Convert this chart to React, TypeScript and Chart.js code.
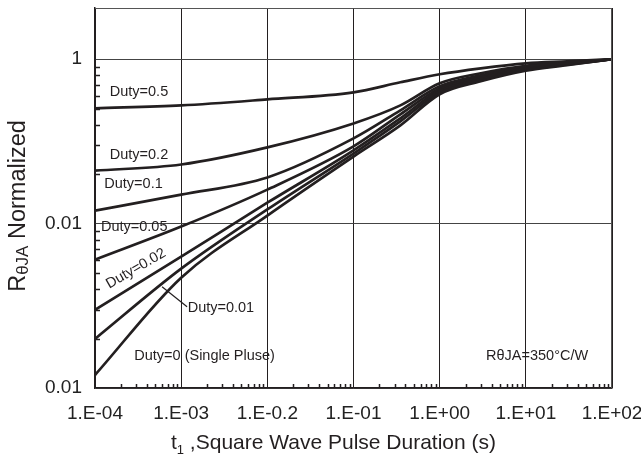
import React, { useEffect, useRef } from "react";
import { Chart, registerables } from "chart.js";

Chart.register(...registerables);

// Pulse duration sample points (s)
const T = [1e-4, 1e-3, 1e-2, 0.1, 0.35, 1, 3, 10, 30, 100];

// Normalized thermal resistance per duty cycle
const DUTY = ["0.5", "0.2", "0.1", "0.05", "0.02", "0.01", "0"];
const D05 = [0.503, 0.524, 0.57, 0.629, 0.724, 0.81, 0.881, 0.945, 0.972, 1.0];
const D02 = [0.21, 0.229, 0.291, 0.407, 0.524, 0.714, 0.822, 0.913, 0.952, 1.0];
const D01 = [0.12, 0.15, 0.191, 0.33, 0.489, 0.684, 0.799, 0.9, 0.945, 1.0];
const D005 = [0.0603, 0.0959, 0.161, 0.295, 0.462, 0.665, 0.782, 0.888, 0.939, 1.0];
const D002 = [0.0299, 0.0629, 0.134, 0.279, 0.437, 0.647, 0.766, 0.875, 0.932, 1.0];
const D001 = [0.0199, 0.0532, 0.122, 0.267, 0.419, 0.629, 0.75, 0.863, 0.926, 1.0];
const D0 = [0.012, 0.0469, 0.112, 0.256, 0.396, 0.612, 0.734, 0.851, 0.919, 1.0];
const SERIES = [D05, D02, D01, D005, D002, D001, D0];

// Axis ticks and labels (as printed in the original, typos included)
const X_TICKS = [1e-4, 1e-3, 1e-2, 1e-1, 1, 10, 100];
const X_LABELS = ["1.E-04", "1.E-03", "1.E-0.2", "1.E-01", "1.E+00", "1.E+01", "1.E+02"];
const Y_TICKS = [0.01, 0.1, 1];
const Y_LABELS = ["0.01", "0.01", "1"];

// In-plot notes (data coordinates)
const NOTE_TEXT = ["Duty=0.5", "Duty=0.2", "Duty=0.1", "Duty=0.05", "Duty=0.02", "Duty=0.01", "Duty=0 (Single Pluse)", "RθJA=350°C/W"];
const NOTE_T = [3.24e-4, 3.24e-4, 2.8e-4, 2.85e-4, 2.99e-4, 1.19e-3, 1.87e-3, 13.5];
const NOTE_V = [0.636, 0.263, 0.175, 0.0952, 0.0532, 0.0308, 0.0157, 0.0157];
const NOTE_ANGLE = [0, 0, 0, 0, -30, 0, 0, 0];
const NOTE_ALIGN = ["center", "center", "center", "center", "center", "left", "center", "center"];
const LEADER_T = [6.0e-4, 1.17e-3];
const LEADER_V = [0.0413, 0.0312];

const FONT = "'Liberation Sans', Arial, Helvetica, sans-serif";
const INK = "#231f20";

export default function App() {
  const ref = useRef<HTMLCanvasElement>(null);

  useEffect(() => {
    const canvas = ref.current;
    if (!canvas) return;

    const datasets = SERIES.map((vals, i) => ({
      label: "Duty=" + DUTY[i],
      data: T.map((t, j) => ({ x: t, y: vals[j] })),
      borderColor: INK,
      backgroundColor: INK,
      borderWidth: 2.7,
      pointRadius: 0,
      fill: false,
      cubicInterpolationMode: "monotone" as const,
    }));

    const overlay = {
      id: "overlay",
      afterDatasetsDraw(chart: any) {
        const { ctx, chartArea: a, scales } = chart;
        const xs = scales.x;
        const ys = scales.y;
        ctx.save();

        // top / right frame
        ctx.strokeStyle = "#555";
        ctx.lineWidth = 1;
        ctx.beginPath();
        ctx.moveTo(a.left, a.top + 0.5);
        ctx.lineTo(a.right, a.top + 0.5);
        ctx.moveTo(a.right - 0.5, a.top);
        ctx.lineTo(a.right - 0.5, a.bottom);
        ctx.stroke();

        // minor ticks (inside)
        ctx.strokeStyle = INK;
        ctx.lineWidth = 1.5;
        ctx.beginPath();
        for (let n = -4; n <= 1; n++) {
          for (let k = 2; k <= 9; k++) {
            const px = Math.round(xs.getPixelForValue(k * Math.pow(10, n))) + 0.5;
            ctx.moveTo(px, a.bottom);
            ctx.lineTo(px, a.bottom - 4);
          }
        }
        for (let n = -2; n <= -1; n++) {
          for (let k = 2; k <= 9; k++) {
            const py = Math.round(ys.getPixelForValue(k * Math.pow(10, n))) + 0.5;
            ctx.moveTo(a.left, py);
            ctx.lineTo(a.left + 5, py);
          }
        }
        ctx.stroke();

        // notes
        ctx.fillStyle = INK;
        ctx.font = `14.5px ${FONT}`;
        ctx.textBaseline = "middle";
        NOTE_TEXT.forEach((txt, i) => {
          const px = xs.getPixelForValue(NOTE_T[i]);
          const py = ys.getPixelForValue(NOTE_V[i]);
          ctx.save();
          ctx.translate(px, py);
          ctx.rotate((NOTE_ANGLE[i] * Math.PI) / 180);
          ctx.textAlign = NOTE_ALIGN[i] as CanvasTextAlign;
          ctx.fillText(txt, 0, 0);
          ctx.restore();
        });

        // leader line for Duty=0.01
        ctx.strokeStyle = INK;
        ctx.lineWidth = 1.2;
        ctx.beginPath();
        ctx.moveTo(xs.getPixelForValue(LEADER_T[0]), ys.getPixelForValue(LEADER_V[0]));
        ctx.lineTo(xs.getPixelForValue(LEADER_T[1]), ys.getPixelForValue(LEADER_V[1]));
        ctx.stroke();

        // x axis title with subscript
        ctx.fillStyle = INK;
        ctx.textAlign = "left";
        ctx.textBaseline = "alphabetic";
        const big = `21px ${FONT}`;
        const sub = `13px ${FONT}`;
        ctx.font = big;
        const w1 = ctx.measureText("t").width;
        ctx.font = sub;
        const w2 = ctx.measureText("1").width;
        ctx.font = big;
        const rest = " ,Square Wave Pulse Duration (s)";
        const w3 = ctx.measureText(rest).width;
        const cx = (a.left + a.right) / 2 - 20;
        let x0 = cx - (w1 + w2 + w3) / 2;
        const by = a.bottom + 61;
        ctx.fillText("t", x0, by);
        x0 += w1;
        ctx.font = sub;
        ctx.fillText("1", x0, by + 5);
        x0 += w2;
        ctx.font = big;
        ctx.fillText(rest, x0, by);

        // y axis title with subscript (rotated)
        const ybig = `23.5px ${FONT}`;
        const ysub = `17px ${FONT}`;
        ctx.font = ybig;
        const r1 = ctx.measureText("R").width;
        const r3 = ctx.measureText(" Normalized").width;
        ctx.font = ysub;
        const r2 = ctx.measureText("θJA").width;
        const cy = (a.top + a.bottom) / 2 + 8;
        ctx.translate(25, cy);
        ctx.rotate(-Math.PI / 2);
        let s0 = -(r1 + r2 + r3) / 2;
        ctx.font = ybig;
        ctx.fillText("R", s0, 0);
        s0 += r1;
        ctx.font = ysub;
        ctx.fillText("θJA", s0, 3);
        s0 += r2;
        ctx.font = ybig;
        ctx.fillText(" Normalized", s0, 0);

        ctx.restore();
      },
    };

    const chart = new Chart(canvas, {
      type: "line",
      data: { datasets },
      options: {
        animation: false,
        responsive: false,
        devicePixelRatio: 1,
        layout: { padding: { top: 8, right: 29, left: 0, bottom: 0 } },
        plugins: { legend: { display: false }, tooltip: { enabled: false } },
        scales: {
          x: {
            type: "logarithmic",
            position: "bottom",
            min: 1e-4,
            max: 100,
            afterBuildTicks: (s: any) => {
              s.ticks = X_TICKS.map((v) => ({ value: v }));
            },
            afterFit: (s: any) => {
              s.height = 67;
              s.paddingLeft = 0;
              s.paddingRight = 0;
            },
            ticks: {
              callback: (_v: any, i: number) => X_LABELS[i],
              autoSkip: false,
              maxRotation: 0,
              minRotation: 0,
              padding: 14,
              color: "#222",
              font: { family: FONT, size: 19 },
            },
            grid: { color: INK, lineWidth: 1, drawTicks: false },
            border: { color: INK, width: 1.5 },
          },
          y: {
            type: "logarithmic",
            position: "left",
            min: 0.01,
            max: 2.05,
            afterBuildTicks: (s: any) => {
              s.ticks = Y_TICKS.map((v) => ({ value: v }));
            },
            afterFit: (s: any) => {
              s.width = 95;
              s.paddingTop = 0;
              s.paddingBottom = 0;
            },
            ticks: {
              callback: (_v: any, i: number) => Y_LABELS[i],
              autoSkip: false,
              padding: 13,
              color: "#222",
              font: { family: FONT, size: 19 },
            },
            grid: { color: "#444", lineWidth: 1, drawTicks: false },
            border: { color: INK, width: 1.5 },
          },
        },
      },
      plugins: [overlay],
    } as any);

    return () => chart.destroy();
  }, []);

  return (
    <canvas
      ref={ref}
      width={641}
      height={455}
      style={{ position: "fixed", left: 0, top: 0, width: 641, height: 455 }}
    />
  );
}
